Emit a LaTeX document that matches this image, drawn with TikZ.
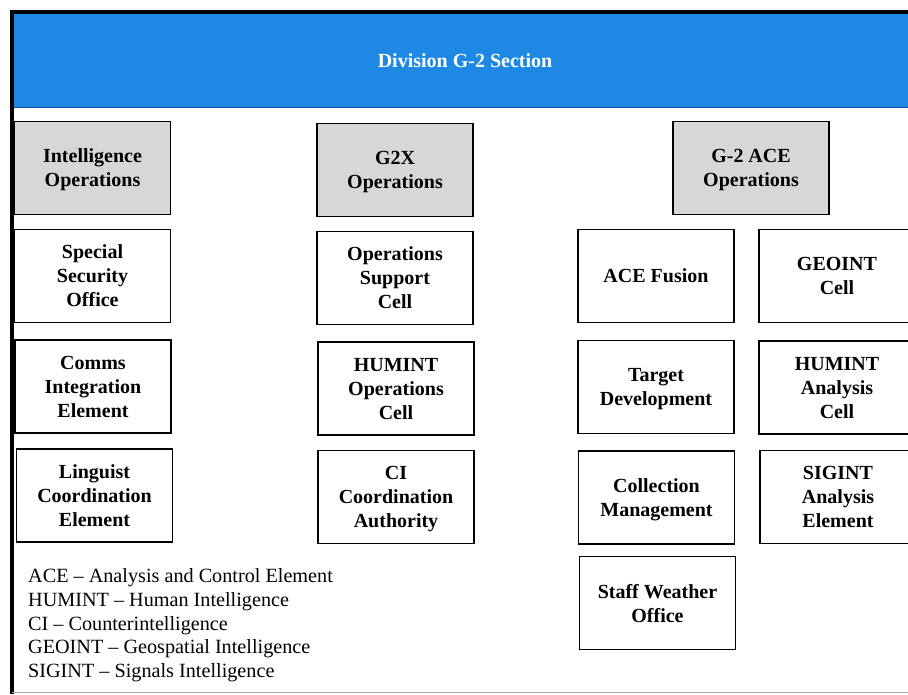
\documentclass[tikz,border=0pt]{standalone}
\usepackage{fontspec}
\setmainfont{Liberation Serif}
\definecolor{headblue}{RGB}{30,136,229}
\definecolor{headedge}{RGB}{22,74,160}
\definecolor{groupgray}{RGB}{215,215,215}
\begin{document}
\begin{tikzpicture}[x=1pt,y=-1pt,
  unitbox/.style={draw=black, line width=1.6pt, fill=white,
    minimum width=156pt, minimum height=93pt, inner sep=0pt,
    text depth=0pt, align=center,
    font=\fontsize{20}{24}\selectfont\bfseries},
  groupbox/.style={unitbox, fill=groupgray},
  frame/.style={line width=4pt, black}]
  \useasboundingbox (0,0) rectangle (908,694);
  \clip (0,0) rectangle (908,694);
  \fill[white] (0,0) rectangle (908,694);

  % section header band
  \fill[headblue] (14,13.5) rectangle (912,107);
  \draw[headedge, line width=0.8pt] (14,107) -- (912,107);
  \node[text=white, font=\fontsize{20}{24}\selectfont\bfseries] (head) at (465,61) {Division G-2 Section};

  % outer frame (top and left edges)
  \draw[frame] (9.5,11.8) -- (912,11.8);
  \draw[frame] (11.5,9.8) -- (11.5,694);
  \draw[black!35, line width=0.8pt] (12,692.5) -- (908,692.5);

  % Intelligence Operations column
  \node[groupbox] (intops) at (92.5,168)   {Intelligence\\Operations};
  \node[unitbox]  (sso)    at (92.5,276)   {Special\\Security\\Office};
  \node[unitbox]  (cie)    at (93,386.5)   {Comms\\Integration\\Element};
  \node[unitbox]  (lce)    at (94.5,495.5) {Linguist\\Coordination\\Element};

  % G2X Operations column
  \node[groupbox] (gtwox)  at (395,170)    {G2X\\Operations};
  \node[unitbox]  (osc)    at (395,278)    {Operations\\Support\\Cell};
  \node[unitbox]  (hoc)    at (396,388.5)  {HUMINT\\Operations\\Cell};
  \node[unitbox]  (cica)   at (396,497)    {CI\\Coordination\\Authority};

  % G-2 ACE Operations columns
  \node[groupbox] (aceops) at (751,168)    {G-2 ACE\\Operations};
  \node[unitbox]  (fusion) at (656,276)    {ACE Fusion};
  \node[unitbox]  (target) at (656,387)    {Target\\Development};
  \node[unitbox]  (collect) at (656.5,497.5) {Collection\\Management};
  \node[unitbox]  (weather) at (657.5,603) {Staff Weather\\Office};
  \node[unitbox]  (geoint) at (837,276)    {GEOINT\\Cell};
  \node[unitbox]  (hac)    at (837,387.5)  {HUMINT\\Analysis\\Cell};
  \node[unitbox]  (sae)    at (838,497)    {SIGINT\\Analysis\\Element};

  % abbreviation key
  \node[anchor=north west, inner sep=0pt, align=left,
        font=\fontsize{20.2}{23.7}\selectfont] (key) at (28,568.5)
    {ACE -- Analysis and Control Element\\
     HUMINT -- Human Intelligence\\
     CI -- Counterintelligence\\
     GEOINT -- Geospatial Intelligence\\
     SIGINT -- Signals Intelligence};
\end{tikzpicture}
\end{document}
